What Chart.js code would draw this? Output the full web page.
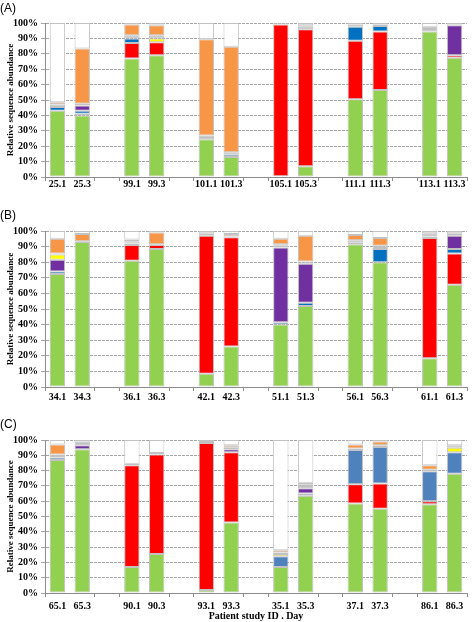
<!DOCTYPE html>
<html>
<head>
<meta charset="utf-8">
<script src="https://cdn.jsdelivr.net/npm/chart.js@4.4.1/dist/chart.umd.min.js"></script>
<style>
  body { margin: 0; background: #fff; width: 473px; height: 622px; position: relative; overflow: hidden; }
  .panel { position: absolute; left: 0; width: 473px; }
  .tag { position: absolute; left: 0; font: 12px "Liberation Sans", Arial, sans-serif; color: #000; }
</style>
</head>
<body>
<div class="panel" style="top:0;height:200px"><canvas id="chartA"></canvas></div>
<div class="panel" style="top:200px;height:205px"><canvas id="chartB"></canvas></div>
<div class="panel" style="top:408px;height:214px"><canvas id="chartC"></canvas></div>
<div class="tag" style="top:1px">(A)</div>
<div class="tag" style="top:208px">(B)</div>
<div class="tag" style="top:417px">(C)</div>
<script>
// panel A
const samplesA = ['25.1', '25.3', '99.1', '99.3', '101.1', '101.3', '105.1', '105.3', '111.1', '111.3', '113.1', '113.3'];
const greenA  = [43, 40, 77, 79, 24.5, 13, 0.5, 7, 50.5, 56.5, 94.5, 77.5];
const redA    = [0, 1, 10, 8.5, 0, 0, 98.5, 89, 38, 38, 0, 1.5];
const steelA  = [0, 0, 0, 0, 0, 0, 0, 0, 0, 0, 0, 0];
const blueA   = [2.5, 2, 3, 0, 0, 1.5, 0, 0, 9, 3.5, 0, 0];
const purpleA = [0, 3.5, 0, 0, 0, 0, 0, 0, 0, 0, 0, 19.5];
const yellowA = [0, 0, 0, 2.5, 0, 0, 0, 0, 0, 0, 0, 0];
const greyA   = [1.5, 1, 2, 2, 2.5, 1.5, 0.5, 1.5, 1.5, 1, 3, 0.5];
const orangeA = [1.5, 36, 7, 6.5, 62.5, 68.5, 0, 1, 0, 0, 0, 0];
const tanA    = [0, 0, 0, 0.5, 0, 0, 0, 0, 0, 0, 0, 0];
const whiteA  = [51.5, 16.5, 1, 1, 10.5, 15.5, 0.5, 1.5, 1, 1, 2.5, 1];

// panel B
const samplesB = ['34.1', '34.3', '36.1', '36.3', '42.1', '42.3', '51.1', '51.3', '56.1', '56.3', '61.1', '61.3'];
const greenB  = [72.5, 93, 81, 88.5, 8.5, 26, 40, 52, 91.5, 80, 18.5, 65.5];
const redB    = [0, 0, 10, 2.5, 88.5, 70, 0, 0, 0, 0, 77, 20];
const steelB  = [0, 0, 0, 0, 0, 0, 0, 0, 0, 0, 0, 0];
const blueB   = [1.5, 0, 1, 0, 0, 0, 1.5, 2, 1, 8.5, 1, 3];
const purpleB = [7.5, 0, 0.5, 0, 0, 0, 48, 25, 0, 0, 0, 8.5];
const yellowB = [3.5, 0, 0, 0, 0, 0, 1, 1, 0, 0, 0, 0];
const greyB   = [0.5, 0.5, 1, 0.5, 0.5, 0.5, 1, 0.5, 1.5, 2, 2, 0.5];
const orangeB = [9.5, 4.5, 0, 7.5, 0, 0, 3.5, 16.5, 3.5, 5, 0, 1];
const tanB    = [0, 0, 1, 0, 1, 1.5, 0, 0, 0, 0, 0, 0];
const whiteB  = [5, 2, 5.5, 1, 1.5, 2, 5, 3, 2.5, 4.5, 1.5, 1.5];

// panel C
const samplesC = ['65.1', '65.3', '90.1', '90.3', '93.1', '93.3', '35.1', '35.3', '37.1', '37.3', '86.1', '86.3'];
const greenC  = [87, 94, 17, 25.5, 2, 46, 17, 63.5, 58.5, 55, 58, 78];
const redC    = [0, 0, 66.5, 65, 96, 46, 0, 0, 12.5, 16.5, 2, 0];
const steelC  = [1.5, 0, 0, 0, 0, 0, 7, 1.5, 22.5, 24, 19.5, 14];
const blueC   = [0, 0, 0, 0, 0, 0, 0, 0, 0, 0, 0, 0];
const purpleC = [1, 2.5, 0, 0, 0, 2, 0, 3.5, 0, 0, 0, 0];
const yellowC = [0, 0, 0, 0, 0, 0, 1.5, 0, 0, 0, 0, 3];
const greyC   = [1, 2.5, 1, 1, 2, 1, 1, 2.5, 1, 1, 1, 1.5];
const orangeC = [6.5, 0, 0, 0, 0, 0, 1.5, 1, 2.5, 2.5, 3, 0];
const tanC    = [0, 0, 0, 0, 0, 1.5, 0, 0, 0, 0, 0, 0];
const whiteC  = [3, 1, 15.5, 8.5, 0, 3.5, 72, 28, 3, 1, 16.5, 3.5];

const colors = {
  green: '#92d050', red: '#ff0000', steel: '#4f81bd', blue: '#0070c0', purple: '#7030a0',
  yellow: '#ffff00', grey: '#bfbfbf', orange: '#f79646', tan: '#d6b89e', white: '#ffffff'
};

const serif = '"Liberation Serif", "Times New Roman", serif';

// an empty slot after every pair of bars
function withGaps(values, empty) {
  const out = [];
  values.forEach((v, i) => {
    out.push(v);
    if (i % 2 === 1 && i < values.length - 1) out.push(empty);
  });
  return out;
}

function makeChart(id, samples, series, cfg) {
  const datasets = Object.keys(series).map(name => ({
    label: name,
    data: withGaps(series[name].map(v => v || null), null),
    backgroundColor: colors[name],
    borderColor: '#c2c2c2',
    borderWidth: 1,
    borderSkipped: false,
    categoryPercentage: 1,
    barPercentage: 0.62
  }));

  new Chart(document.getElementById(id), {
    type: 'bar',
    data: { labels: withGaps(samples, ''), datasets: datasets },
    options: {
      responsive: true,
      maintainAspectRatio: false,
      animation: false,
      layout: { padding: { top: cfg.top, bottom: cfg.bottom, left: 0, right: 6 } },
      plugins: { legend: { display: false }, tooltip: { enabled: false } },
      scales: {
        x: {
          stacked: true,
          grid: {
            offset: true,
            drawOnChartArea: false,
            tickLength: 4,
            color: ctx => ctx.index % 3 !== 1 ? '#8c8c8c' : 'rgba(0,0,0,0)'
          },
          border: { color: '#8c8c8c' },
          ticks: {
            autoSkip: false, maxRotation: 0, padding: cfg.labelPad,
            color: '#000', font: { family: serif, size: 10, weight: 'bold' }
          },
          title: {
            display: !!cfg.xTitle, text: cfg.xTitle || '', color: '#000',
            padding: { top: 0, bottom: 0 },
            font: { family: serif, size: 10, weight: 'bold' }
          },
          afterFit: s => { s.height = cfg.xHeight; }
        },
        y: {
          stacked: true,
          min: 0, max: 100,
          grid: { color: '#a6a6a6', tickLength: 4 },
          border: { color: '#8c8c8c', dash: [3, 1] },
          ticks: {
            stepSize: 10, padding: 3, color: '#000',
            font: { family: serif, size: 10, weight: 'bold' },
            callback: v => v + '%'
          },
          title: {
            display: true, text: 'Relative sequence abundance', color: '#000',
            padding: { top: 5, bottom: 0 },
            font: { family: serif, size: 9, weight: 'bold' }
          },
          afterFit: s => { s.width = 45; }
        }
      }
    }
  });
}

makeChart('chartA', samplesA, {
  green: greenA, red: redA, steel: steelA, blue: blueA, purple: purpleA, yellow: yellowA,
  grey: greyA, orange: orangeA, tan: tanA, white: whiteA
}, { top: 23, bottom: 5, xHeight: 18, labelPad: -3 });

makeChart('chartB', samplesB, {
  green: greenB, red: redB, steel: steelB, blue: blueB, purple: purpleB, yellow: yellowB,
  grey: greyB, orange: orangeB, tan: tanB, white: whiteB
}, { top: 31, bottom: 0, xHeight: 18, labelPad: 0 });

makeChart('chartC', samplesC, {
  green: greenC, red: redC, steel: steelC, blue: blueC, purple: purpleC, yellow: yellowC,
  grey: greyC, orange: orangeC, tan: tanC, white: whiteC
}, { top: 32, bottom: 0, xHeight: 29, labelPad: 3, xTitle: 'Patient study ID . Day' });
</script>
</body>
</html>
